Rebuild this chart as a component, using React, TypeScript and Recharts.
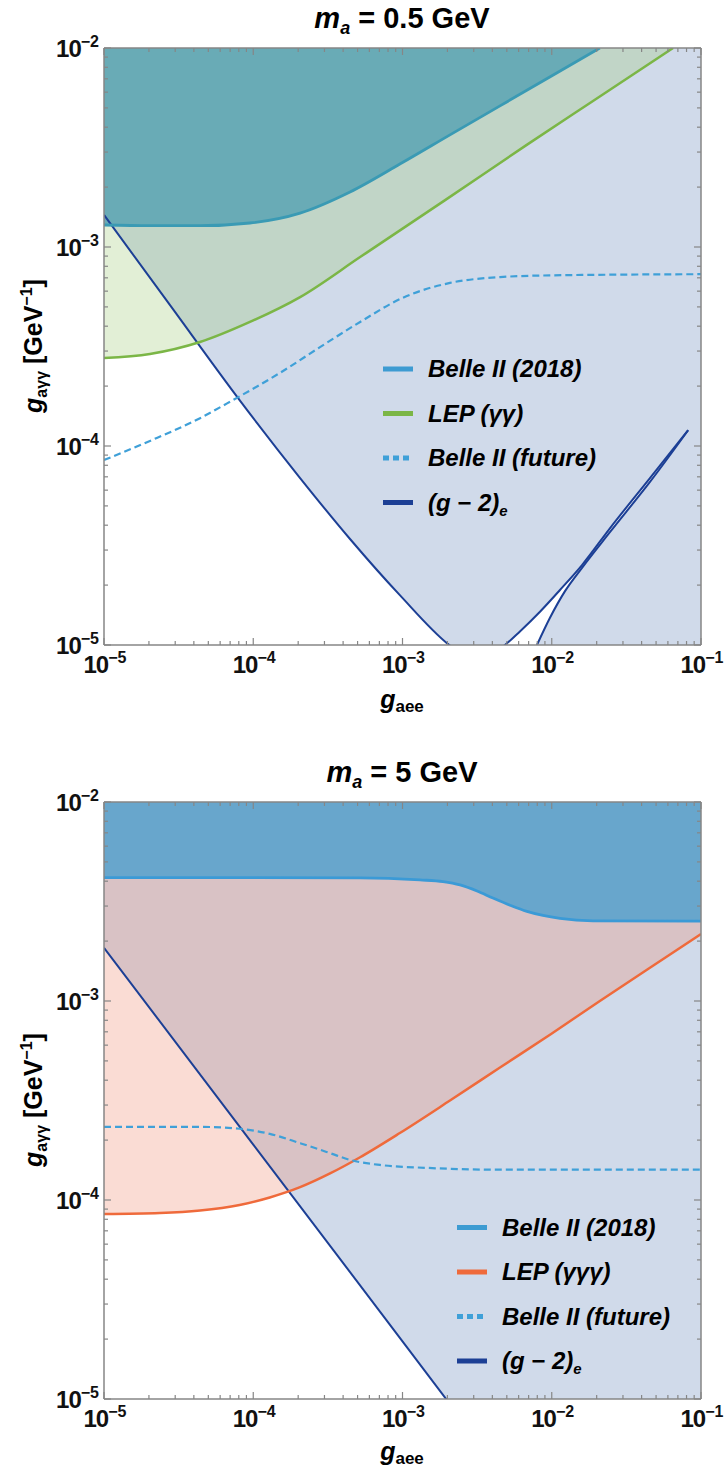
import React from "react";
import { ComposedChart, Area, Line, XAxis, YAxis } from "recharts";

// ---------- m_a = 0.5 GeV ----------
const topBelleX = [1e-5, 2.03e-5, 4.4e-5, 9.5e-5, 2.06e-4, 4.45e-4, 9.6e-4, 2.08e-3, 4.5e-3, 9.7e-3, 2.1e-2];
const topBelleY = [1.29e-3, 1.28e-3, 1.28e-3, 1.32e-3, 1.48e-3, 1.89e-3, 2.61e-3, 3.66e-3, 5.12e-3, 7.15e-3, 1.0e-2];

const topLepX = [1e-5, 2.03e-5, 4.4e-5, 9.5e-5, 2.06e-4, 5.2e-4, 1.93e-3, 6.8e-3, 1.89e-2, 6.5e-2];
const topLepY = [2.77e-4, 2.9e-4, 3.33e-4, 4.2e-4, 5.6e-4, 8.9e-4, 1.72e-3, 3.26e-3, 5.42e-3, 1.0e-2];

const topFutureX = [1e-5, 2.03e-5, 4.4e-5, 7.3e-5, 1.51e-4, 2.8e-4, 5.2e-4, 1.0e-3, 2.08e-3, 4.5e-3, 9.7e-3, 1e-1];
const topFutureY = [8.5e-5, 1.06e-4, 1.38e-4, 1.7e-4, 2.33e-4, 3.14e-4, 4.2e-4, 5.55e-4, 6.6e-4, 7.06e-4, 7.2e-4, 7.3e-4];

// (g-2)_e boundary: left arm, dip below the frame, right arm
const topG2X = [1e-5, 2.77e-5, 8.1e-5, 2.06e-4, 4.45e-4, 9.6e-4, 2.02e-3, 3.06e-3, 4.86e-3, 6.12e-3, 8.34e-3, 1.135e-2, 1.6e-2, 2.46e-2, 4.55e-2, 8.2e-2];
const topG2Y = [1.45e-3, 5.1e-4, 1.7e-4, 6.9e-5, 3.41e-5, 1.78e-5, 1.01e-5, 8.2e-6, 1.0e-5, 1.17e-5, 1.47e-5, 1.89e-5, 2.53e-5, 3.87e-5, 6.9e-5, 1.2e-4];
// second (g-2)_e branch, excluded below it
const topG2BranchX = [7.96e-3, 9.73e-3, 1.23e-2, 1.6e-2, 2.46e-2, 4.55e-2, 8.2e-2];
const topG2BranchY = [1.0e-5, 1.37e-5, 1.87e-5, 2.45e-5, 3.7e-5, 6.6e-5, 1.2e-4];

// ---------- m_a = 5 GeV ----------
const botBelleX = [1e-5, 5.2e-4, 1.31e-3, 1.87e-3, 2.43e-3, 3.16e-3, 4.04e-3, 5.25e-3, 6.82e-3, 8.73e-3, 1.135e-2, 1.89e-2, 1e-1];
const botBelleY = [4.17e-3, 4.16e-3, 4.06e-3, 3.98e-3, 3.83e-3, 3.57e-3, 3.29e-3, 3.03e-3, 2.82e-3, 2.69e-3, 2.6e-3, 2.53e-3, 2.52e-3];

const botLepX = [1e-5, 2.37e-5, 4.4e-5, 8.1e-5, 1.29e-4, 2.06e-4, 3.27e-4, 5.2e-4, 9.6e-4, 2.08e-3, 4.5e-3, 9.9e-3, 2.1e-2, 4.55e-2, 1e-1];
const botLepY = [8.5e-5, 8.6e-5, 8.85e-5, 9.44e-5, 1.03e-4, 1.16e-4, 1.36e-4, 1.64e-4, 2.17e-4, 3.16e-4, 4.63e-4, 6.83e-4, 1.0e-3, 1.47e-3, 2.17e-3];

const botFutureX = [1e-5, 4.4e-5, 8.1e-5, 1.29e-4, 2.06e-4, 3.27e-4, 4.45e-4, 7.06e-4, 1.46e-3, 4.5e-3, 1e-1];
const botFutureY = [2.33e-4, 2.33e-4, 2.28e-4, 2.15e-4, 1.93e-4, 1.72e-4, 1.59e-4, 1.5e-4, 1.45e-4, 1.42e-4, 1.42e-4];

const botG2X = [1e-5, 1e-4, 1e-3, 2e-3];
const botG2Y = [1.85e-3, 1.9e-4, 1.95e-5, 9.8e-6];

// ---------- axes ----------
const xDecades = [1e-5, 1e-4, 1e-3, 1e-2, 1e-1];
const yDecades = [1e-5, 1e-4, 1e-3, 1e-2];
const minorSteps = [2, 3, 4, 5, 6, 7, 8, 9];

const X_DOMAIN: [number, number] = [1e-5, 1e-1];
const Y_DOMAIN: [number, number] = [1e-5, 1e-2];
const FLOOR = 1e-7; // below the frame, used to close fills
const CEIL = 5e-2; // above the frame
const X_END = 0.3;

const FONT = "'Liberation Sans', Arial, Helvetica, sans-serif";
const FRAME = "#868686";
const G2_FILL = "#d0daea";
const G2_LINE = "#1c3f95";
const FUTURE = "#3fa0d8";
const BELLE_SWATCH = "#3d9bd2";

const withMinors = (decades: number[]) => {
  const out: number[] = [];
  decades.forEach((d, i) => {
    out.push(d);
    if (i < decades.length - 1) minorSteps.forEach((m) => out.push(m * d));
  });
  return out;
};
const xTicks = withMinors(xDecades);
const yTicks = withMinors(yDecades);

const isDecade = (v: number) => {
  const l = Math.log10(v);
  return Math.abs(l - Math.round(l)) < 1e-6;
};

const points = (xs: number[], ys: number[]) => xs.map((x, i) => ({ x, y: ys[i] }));
const above = (xs: number[], ys: number[]) => xs.map((x, i) => ({ x, band: [ys[i], CEIL] }));
const below = (xs: number[], ys: number[]) => xs.map((x, i) => ({ x, band: [FLOOR, ys[i]] }));
const column = (from: number) => [
  { x: from, band: [FLOOR, CEIL] },
  { x: X_END, band: [FLOOR, CEIL] },
];

function PowText({ x, y, v, anchor }: any) {
  const e = Math.round(Math.log10(v));
  return (
    <text x={x} y={y} textAnchor={anchor} fontFamily={FONT} fontWeight={700} fontSize={24} fill="#111">
      <tspan letterSpacing={-1}>10</tspan>
      <tspan dy={-10} fontSize={16}>{"\u2212" + Math.abs(e)}</tspan>
    </text>
  );
}

const makeTick = (side: "bottom" | "top" | "left" | "right") => (p: any) => {
  const v = p.payload.value;
  const major = isDecade(v);
  const len = major ? 7 : 4;
  const { x, y } = p;
  let seg = { x1: x, y1: y, x2: x, y2: y };
  if (side === "bottom") seg = { x1: x, y1: y, x2: x, y2: y - len };
  if (side === "top") seg = { x1: x, y1: y, x2: x, y2: y + len };
  if (side === "left") seg = { x1: x, y1: y, x2: x + len, y2: y };
  if (side === "right") seg = { x1: x, y1: y, x2: x - len, y2: y };
  return (
    <g>
      <line {...seg} stroke={FRAME} strokeWidth={1.2} />
      {major && side === "bottom" && <PowText x={x + 1} y={y + 28} v={v} anchor="middle" />}
      {major && side === "left" && <PowText x={x - 5} y={y + 9} v={v} anchor="end" />}
    </g>
  );
};

const W = 726;
const CHART_H = 721;
// axes are 1px thick, so the plot box is x 104..701, y 48..645
const MARGIN = { top: 47, right: 24, bottom: 75, left: 103 };
const axisLine = { stroke: FRAME, strokeWidth: 1.5 };

const frameAxes = () => [
  <XAxis key="xb" dataKey="x" type="number" scale="log" domain={X_DOMAIN} allowDataOverflow ticks={xTicks} interval={0}
    height={1} tickSize={0} tickMargin={0} tickLine={false} axisLine={axisLine} tick={makeTick("bottom")} />,
  <XAxis key="xt" xAxisId="top" orientation="top" dataKey="x" type="number" scale="log" domain={X_DOMAIN} allowDataOverflow
    ticks={xTicks} interval={0} height={1} tickSize={0} tickMargin={0} tickLine={false} axisLine={axisLine} tick={makeTick("top")} />,
  <YAxis key="yl" type="number" scale="log" domain={Y_DOMAIN} allowDataOverflow ticks={yTicks} interval={0}
    width={1} tickSize={0} tickMargin={0} tickLine={false} axisLine={axisLine} tick={makeTick("left")} />,
  <YAxis key="yr" yAxisId="right" orientation="right" type="number" scale="log" domain={Y_DOMAIN} allowDataOverflow ticks={yTicks}
    interval={0} width={1} tickSize={0} tickMargin={0} tickLine={false} axisLine={axisLine} tick={makeTick("right")} />,
];

const areaCommon = { dataKey: "band", stroke: "none", isAnimationActive: false, dot: false, activeDot: false } as const;
const lineCommon = { dataKey: "y", dot: false, activeDot: false, isAnimationActive: false } as const;

function TopPanel() {
  const lastX = topG2X[topG2X.length - 1];
  return (
    <ComposedChart width={W} height={CHART_H} margin={MARGIN}>
      <Area {...areaCommon} data={above(topG2X, topG2Y)} type="monotone" fill={G2_FILL} fillOpacity={1} />
      <Area {...areaCommon} data={below(topG2BranchX, topG2BranchY)} type="monotone" fill={G2_FILL} fillOpacity={1} />
      <Area {...areaCommon} data={column(lastX * 0.97)} type="linear" fill={G2_FILL} fillOpacity={1} />
      <Area {...areaCommon} data={above(topLepX, topLepY)} type="monotone" fill="#9eca76" fillOpacity={0.3} />
      <Area {...areaCommon} data={above(topBelleX, topBelleY)} type="monotone" fill="#69abb6" fillOpacity={1} />
      <Line {...lineCommon} data={points(topG2X, topG2Y)} type="monotone" stroke={G2_LINE} strokeWidth={2} />
      <Line {...lineCommon} data={points(topG2BranchX, topG2BranchY)} type="monotone" stroke={G2_LINE} strokeWidth={2} />
      <Line {...lineCommon} data={points(topLepX, topLepY)} type="monotone" stroke="#7bb646" strokeWidth={2.5} />
      <Line {...lineCommon} data={points(topBelleX, topBelleY)} type="monotone" stroke="#3a9ab4" strokeWidth={2.8} />
      <Line {...lineCommon} data={points(topFutureX, topFutureY)} type="monotone" stroke={FUTURE} strokeWidth={2.2} strokeDasharray="7 4" />
      {frameAxes()}
    </ComposedChart>
  );
}

function BottomPanel() {
  return (
    <ComposedChart width={W} height={CHART_H} margin={MARGIN}>
      <Area {...areaCommon} data={[...above(botG2X, botG2Y), ...column(X_END).slice(1)]} type="linear" fill={G2_FILL} fillOpacity={1} />
      <Area {...areaCommon} data={above(botLepX, botLepY)} type="monotone" fill="#ee8a70" fillOpacity={0.3} />
      <Area {...areaCommon} data={above(botBelleX, botBelleY)} type="monotone" fill="#68a6cc" fillOpacity={1} />
      <Line {...lineCommon} data={points(botG2X, botG2Y)} type="linear" stroke={G2_LINE} strokeWidth={2} />
      <Line {...lineCommon} data={points(botLepX, botLepY)} type="monotone" stroke="#ef6a3b" strokeWidth={2.5} />
      <Line {...lineCommon} data={points(botBelleX, botBelleY)} type="monotone" stroke="#3b9ad6" strokeWidth={2.8} />
      <Line {...lineCommon} data={points(botFutureX, botFutureY)} type="monotone" stroke={FUTURE} strokeWidth={2.2} strokeDasharray="7 4" />
      {frameAxes()}
    </ComposedChart>
  );
}

function Title({ y, mass }: { y: number; mass: string }) {
  return (
    <text x={402} y={y} textAnchor="middle" fontSize={29} fontWeight={700} fill="#000">
      <tspan fontStyle="italic">m</tspan>
      <tspan fontStyle="italic" fontSize={18} dy={6}>a</tspan>
      <tspan dy={-6}>{` = ${mass} GeV`}</tspan>
    </text>
  );
}

function YLabel({ cy }: { cy: number }) {
  return (
    <text transform={`translate(42,${cy}) rotate(-90)`} textAnchor="middle" fontSize={25} fontWeight={700} fill="#000">
      <tspan fontStyle="italic">g</tspan>
      <tspan fontSize={16} dy={5}>{"a\u03B3\u03B3"}</tspan>
      <tspan dy={-5}> [GeV</tspan>
      <tspan fontSize={16} dy={-10}>{"\u22121"}</tspan>
      <tspan dy={10}>]</tspan>
    </text>
  );
}

function XLabel({ y }: { y: number }) {
  return (
    <text x={402} y={y} textAnchor="middle" fontSize={25} fontWeight={700} fill="#000">
      <tspan fontStyle="italic">g</tspan>
      <tspan fontSize={17} dy={4}>aee</tspan>
    </text>
  );
}

function LegendBlock({ x, y, lepColor, lepText }: { x: number; y: number; lepColor: string; lepText: string }) {
  const rows = [
    { color: BELLE_SWATCH, dash: undefined as string | undefined, label: <tspan>Belle II (2018)</tspan> },
    { color: lepColor, dash: undefined, label: <tspan>{`LEP (${lepText})`}</tspan> },
    { color: FUTURE, dash: "6 4", label: <tspan>Belle II (future)</tspan> },
    {
      color: G2_LINE,
      dash: undefined,
      label: (
        <>
          <tspan>{"(g \u2212 2)"}</tspan>
          <tspan fontSize={15} dy={5}>e</tspan>
        </>
      ),
    },
  ];
  return (
    <g>
      {rows.map((r, i) => {
        const cy = y + i * 44.5;
        return (
          <g key={i}>
            <line x1={x} x2={x + 30} y1={cy} y2={cy} stroke={r.color} strokeWidth={5} strokeDasharray={r.dash} />
            <text x={x + 45} y={cy + 8} fontSize={24} fontWeight={700} fontStyle="italic" fill="#000">
              {r.label}
            </text>
          </g>
        );
      })}
    </g>
  );
}

export default function App() {
  return (
    <div style={{ position: "absolute", left: 0, top: 0, width: W, height: 1475, background: "#fff", fontFamily: FONT }}>
      <div style={{ position: "absolute", left: 0, top: 0 }}>
        <TopPanel />
      </div>
      <div style={{ position: "absolute", left: 0, top: 754 }}>
        <BottomPanel />
      </div>
      <svg width={W} height={1475} style={{ position: "absolute", left: 0, top: 0, pointerEvents: "none" }} fontFamily={FONT}>
        <Title y={28} mass="0.5" />
        <Title y={782} mass="5" />
        <YLabel cy={346} />
        <YLabel cy={1100} />
        <XLabel y={708} />
        <XLabel y={1460} />
        <LegendBlock x={383} y={369} lepColor="#7bb646" lepText={"\u03B3\u03B3"} />
        <LegendBlock x={457} y={1227.5} lepColor="#ef6a3b" lepText={"\u03B3\u03B3\u03B3"} />
      </svg>
    </div>
  );
}
